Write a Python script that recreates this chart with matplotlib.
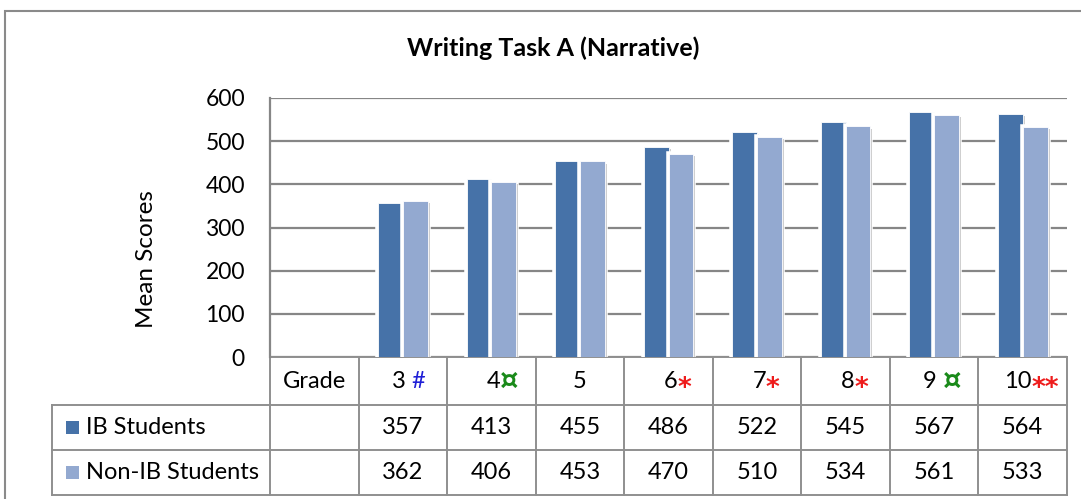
import matplotlib.pyplot as plt
import matplotlib.patheffects as pe
from matplotlib.patches import Rectangle
import numpy as np

plt.rcParams['font.family'] = ['Lato', 'DejaVu Sans']

# data
grades = ['3', '4', '5', '6', '7', '8', '9', '10']
marks = ['#', '¤', '', '*', '*', '*', '¤', '**']
mark_colors = ['#1f1fd6', '#1a8a1a', 'black', '#ee1c1c', '#ee1c1c', '#ee1c1c', '#1a8a1a', '#ee1c1c']
ib_scores = [357, 413, 455, 486, 522, 545, 567, 564]
non_ib_scores = [362, 406, 453, 470, 510, 534, 561, 533]
series_names = ['IB Students', 'Non-IB Students']
colors = ['#4672a8', '#93a9d0']
title = 'Writing Task A (Narrative)'

W, H = 1081, 499
fig = plt.figure(figsize=(W / 100, H / 100), dpi=100)

# outer chart frame
fig.patches.append(Rectangle((5 / W, -0.1), 1.2, 1 - 11 / H + 0.1, transform=fig.transFigure,
                             fill=False, edgecolor='#8a8a8a', linewidth=1.5))

ax = fig.add_axes([270 / W, 1 - 357 / H, (1067 - 270) / W, (357 - 98) / H])

x = np.arange(1, len(grades) + 1)
bw = 0.28
effects = [pe.Stroke(linewidth=4, foreground='white'),
           pe.SimplePatchShadow(offset=(1.5, -1.5), shadow_rgbFace='#777777', alpha=0.35),
           pe.Normal()]
for vals, off, c in [(ib_scores, -bw / 2, colors[0]), (non_ib_scores, bw / 2, colors[1])]:
    bars = ax.bar(x + off, vals, width=bw, color=c, edgecolor='white', linewidth=0.6, zorder=3)
    for b in bars:
        b.set_path_effects(effects)

ax.set_xlim(-0.5, len(grades) + 0.5)
ax.set_ylim(0, 600)
ax.set_yticks(range(0, 601, 100))
ax.yaxis.grid(True, color='#868686', linewidth=1.6)
ax.set_axisbelow(True)
ax.set_xticks([])
ax.tick_params(axis='y', length=0, labelsize=16.5, pad=18)
for s in ['top', 'right', 'bottom']:
    ax.spines[s].set_visible(False)
ax.spines['left'].set_color('#868686')
ax.spines['left'].set_linewidth(1.6)
ax.set_ylabel('Mean Scores', fontsize=17.5)
ax.yaxis.set_label_coords(-0.142, 0.38)

fig.text(553 / W, 1 - 48 / H, title, ha='center', va='center', fontsize=18, fontweight='bold')

# data table below the plot
tr = ax.get_xaxis_transform()
row_y = [0, -48 / 259, -93 / 259, -138 / 259]
lc = '#8f8f8f'
lw = 1.4
left_edge = -0.5 - (270 - 52) / (797 / 9)
kw = dict(transform=tr, clip_on=False, color=lc, linewidth=lw)
ax.plot([-0.5, len(grades) + 0.5], [row_y[0]] * 2, **kw)
for yv in row_y[1:]:
    ax.plot([left_edge, len(grades) + 0.5], [yv] * 2, **kw)
for xb in np.arange(-0.5, len(grades) + 1):
    ax.plot([xb, xb], [row_y[0], row_y[-1]], **kw)
ax.plot([left_edge, left_edge], [row_y[1], row_y[-1]], **kw)

fs = 17
ymid = [(row_y[i] + row_y[i + 1]) / 2 for i in range(3)]
ax.text(0, ymid[0], 'Grade', transform=tr, ha='center', va='center', fontsize=fs)
for xi, g, m, mc in zip(x, grades, marks, mark_colors):
    if m:
        gap = ' ' if g in ('3', '9') else ''
        ax.text(xi + 0.1, ymid[0], g + gap, transform=tr, ha='right', va='center', fontsize=fs)
        if m == '#':
            ax.text(xi + 0.1, ymid[0], m, transform=tr, ha='left', va='center', fontsize=fs,
                    color=mc)
        elif m == '¤':
            ax.text(xi + 0.1, ymid[0], m, transform=tr, ha='left', va='center', fontsize=21,
                    color=mc, fontweight='bold', family='DejaVu Sans')
        else:
            ax.text(xi + 0.1, ymid[0] - 0.03, m, transform=tr, ha='left', va='center', fontsize=19,
                    color=mc, fontweight='bold', family='DejaVu Sans')
    else:
        ax.text(xi, ymid[0], g, transform=tr, ha='center', va='center', fontsize=fs)
for r, vals in enumerate([ib_scores, non_ib_scores]):
    for xi, v in zip(x, vals):
        ax.text(xi, ymid[r + 1], str(v), transform=tr, ha='center', va='center', fontsize=fs)
    ax.add_patch(Rectangle((left_edge + 0.16, ymid[r + 1] - 0.024), 0.14, 0.048, transform=tr,
                           clip_on=False, facecolor=colors[r], edgecolor='none'))
    ax.text(left_edge + 0.38, ymid[r + 1], series_names[r], transform=tr, ha='left', va='center',
            fontsize=fs)

fig.savefig('out.png', dpi=100)
